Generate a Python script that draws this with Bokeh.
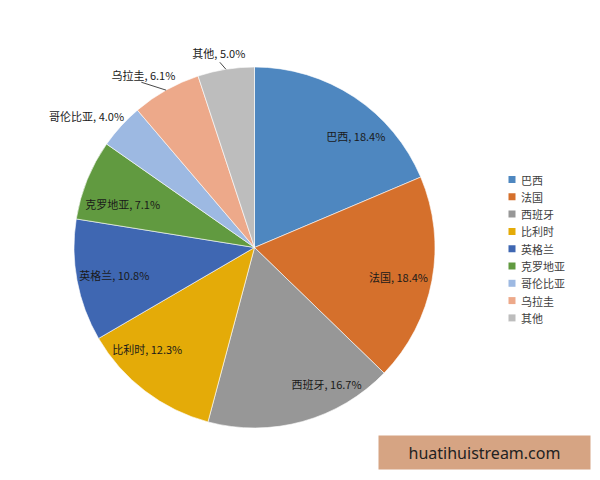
import numpy as np
from bokeh.plotting import figure
from bokeh.models import ColumnDataSource, Range1d
from bokeh.core.properties import value
from bokeh.embed import file_html
from bokeh.resources import INLINE

# ---- data ----
categories = ["巴西", "法国", "西班牙", "比利时", "英格兰", "克罗地亚", "哥伦比亚", "乌拉圭", "其他"]
shares = [18.4, 18.4, 16.7, 12.3, 10.8, 7.1, 4.0, 6.1, 5.0]
colors = ["#4E87C0", "#D5702C", "#979797", "#E4AB08", "#3F67B2", "#619A40", "#9DB9E2", "#EDA98A", "#BDBDBD"]
watermark = "huatihuistream.com"

# ---- layout (pixels) ----
W, H = 600, 480
cx, cy, R = 254, 233, 180.5
# label placement: radius (px) and angle nudge (deg) relative to slice middle
label_r = [151, 147, 154, 148, 143, 139, 213, 205, 197.5]
label_dang = [-8.6, -1.2, 12.4, -9.1, 0.7, 3.6, 4.3, 3.5, 1.3]
leader = [False, False, False, False, False, False, False, True, True]
leader_off = {7: (-2, -7), 8: (1, -9)}

vals = np.array(shares, dtype=float)
frac = vals / vals.sum()
cum = np.concatenate([[0.0], np.cumsum(frac)])
start_clock = np.pi / 2 - 2 * np.pi * cum[:-1]
end_clock = np.pi / 2 - 2 * np.pi * cum[1:]
mid = (start_clock + end_clock) / 2

src = ColumnDataSource(dict(
    x=[cx] * len(vals), y=[cy] * len(vals),
    start=end_clock, end=start_clock, color=colors, cat=categories,
))

p = figure(width=W, height=H, output_backend="svg", toolbar_location=None,
           x_range=Range1d(0, W), y_range=Range1d(0, H), min_border=0)
p.axis.visible = False
p.grid.visible = False
p.outline_line_color = None
p.background_fill_color = "white"

p.wedge(x="x", y="y", radius=R, start_angle="start", end_angle="end",
        direction="anticlock", fill_color="color", line_color="white",
        line_width=0.6, source=src)

# labels
lx, ly, lt = [], [], []
for i, c in enumerate(categories):
    a = mid[i] + np.deg2rad(label_dang[i])
    lx.append(cx + label_r[i] * np.cos(a))
    ly.append(cy + label_r[i] * np.sin(a))
    lt.append(f"{c}, {shares[i]:.1f}%")
    if leader[i]:
        ex, ey = cx + R * np.cos(mid[i]), cy + R * np.sin(mid[i])
        ox, oy = leader_off[i]
        p.line([lx[-1] + ox, ex], [ly[-1] + oy, ey], line_color="#333333", line_width=0.9)

p.text(x=lx, y=ly, text=lt, text_align="center", text_baseline="middle",
       text_font=value("Noto Sans CJK SC"), text_font_size="11px", text_color="#1a1a1a")

# legend
leg_x, leg_y0, leg_dy = 511.5, 301, 17.3
n = len(categories)
leg_ys = [leg_y0 - leg_dy * i for i in range(n)]
p.scatter(x=[leg_x] * n, y=leg_ys, marker="square", size=7, fill_color=colors, line_color=None)
p.text(x=[leg_x + 9] * n, y=leg_ys, text=categories, text_align="left", text_baseline="middle",
       text_font=value("Noto Sans CJK SC"), text_font_size="11px", text_color="#404040")

# watermark box
p.quad(left=[378], right=[590], bottom=[11], top=[45], fill_color="#D6A483", line_color=None)
p.text(x=[484], y=[28], text=[watermark], text_align="center", text_baseline="middle",
       text_font=value("Noto Sans"), text_font_size="16px", text_color="#222222")

open("out.html", "w").write(file_html(p, INLINE))
